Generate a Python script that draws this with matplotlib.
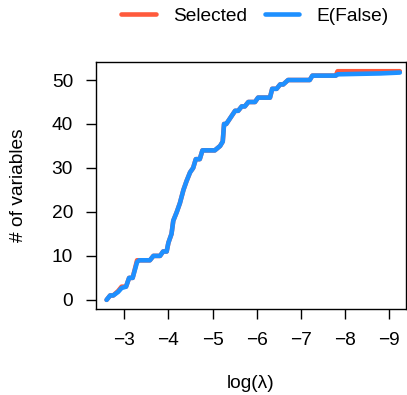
import matplotlib
matplotlib.use("Agg")
import matplotlib.pyplot as plt

plt.rcParams["font.family"] = ["Liberation Sans", "DejaVu Sans"]

# log(lambda) path and number of selected variables
loglam_sel = [-2.60, -2.68, -2.75, -2.86, -2.94, -3.04, -3.11, -3.19, -3.29, -3.34,
              -3.58, -3.66, -3.81, -3.88, -3.96, -4.00, -4.07, -4.11, -4.19, -4.26,
              -4.34, -4.41, -4.49, -4.56, -4.62, -4.71, -4.77, -5.05, -5.17, -5.23,
              -5.26, -5.31, -5.51, -5.58, -5.66, -5.73, -5.81, -5.96, -6.03, -6.30,
              -6.35, -6.45, -6.53, -6.60, -6.71, -7.20, -7.26, -7.79, -7.83, -9.24]
selected = [0, 1, 1, 2, 3, 3, 5, 5, 9, 9,
            9, 10, 10, 11, 11, 13, 15, 18, 20, 22,
            25, 27, 29, 30, 32, 32, 34, 34, 35, 36,
            40, 40, 43, 43, 44, 44, 45, 45, 46, 46,
            48, 48, 49, 49, 50, 50, 51, 51, 52, 52]

# expected number of false selections
loglam_ef = [-2.60, -2.68, -2.75, -2.86, -2.94, -3.04, -3.11, -3.19, -3.29, -3.34,
             -3.58, -3.66, -3.81, -3.88, -3.96, -4.00, -4.07, -4.11, -4.19, -4.26,
             -4.34, -4.41, -4.49, -4.56, -4.62, -4.71, -4.77, -5.05, -5.17, -5.23,
             -5.26, -5.31, -5.51, -5.58, -5.66, -5.73, -5.81, -5.96, -6.03, -6.30,
             -6.35, -6.45, -6.53, -6.60, -6.71, -7.20, -7.26, -7.79, -7.83, -8.30,
             -8.80, -9.24]
efalse = [0, 1, 1, 1.8, 2.7, 3, 5, 5, 8.6, 9,
          9, 10, 10, 11, 11, 13, 15, 18, 20, 22,
          25, 27, 29, 30, 32, 32, 34, 34, 35, 36,
          40, 40, 43, 43, 44, 44, 45, 45, 46, 46,
          48, 48, 49, 49, 50, 50, 51, 51, 51.3, 51.4,
          51.5, 51.7]

fig = plt.figure(figsize=(4.07, 3.95), dpi=100)
ax = fig.add_axes([96 / 407, 1 - 309 / 395, 310 / 407, (309 - 62) / 395])

ax.plot(loglam_sel, selected, color="#FF5A3C", lw=3.3, label="Selected", solid_capstyle="round")
ax.plot(loglam_ef, efalse, color="#1E90FF", lw=3.3, label="E(False)", solid_capstyle="round")

ax.set_xlim(-2.36, -9.38)
ax.set_ylim(-2.08, 54.1)
ax.set_xticks([-3, -4, -5, -6, -7, -8, -9])
ax.set_yticks([0, 10, 20, 30, 40, 50])
ax.tick_params(labelsize=13.8, length=7.5, width=1, pad=9)
for s in ax.spines.values():
    s.set_linewidth(1)

ax.set_xlabel("log(\u03bb)", fontsize=13.8, labelpad=19)
ax.set_ylabel("# of variables", fontsize=13.8, labelpad=18)

fig.legend(loc="center", bbox_to_anchor=(255 / 407, 1 - 16 / 395), ncol=2, frameon=False,
           fontsize=13.8, handlelength=1.8, handletextpad=0.9, columnspacing=0.9)

fig.savefig("out.png", dpi=100)
